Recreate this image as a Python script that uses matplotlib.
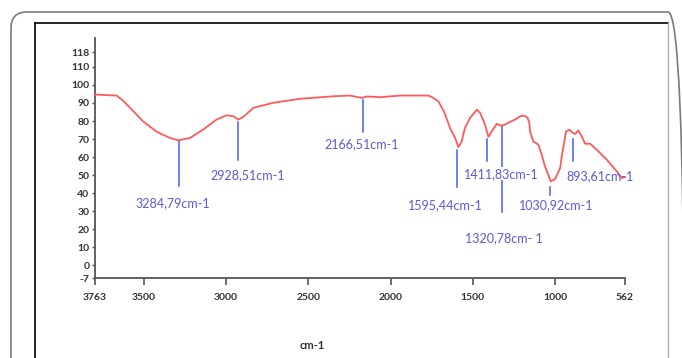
import matplotlib
matplotlib.use("Agg")
import matplotlib.pyplot as plt
from matplotlib.patches import FancyBboxPatch
from matplotlib.lines import Line2D
from matplotlib.transforms import IdentityTransform

plt.rcParams['font.family'] = ['Lato', 'DejaVu Sans']
plt.rcParams['axes.unicode_minus'] = False

# spectrum (wavenumber cm-1, transmittance %)
wn = [3795, 3734, 3663, 3625, 3582, 3503, 3420, 3339, 3289, 3218, 3139, 3056, 2995, 2955,
      2924, 2894, 2833, 2712, 2550, 2349, 2246, 2175, 2143, 2064, 1942, 1770, 1740, 1710,
      1675, 1639, 1608, 1588, 1568, 1548, 1517, 1476, 1456, 1426, 1406, 1385, 1355, 1335,
      1315, 1285, 1244, 1213, 1189, 1168, 1157, 1153, 1133, 1102, 1082, 1062, 1042, 1027,
      1001, 970, 960, 950, 934, 914, 893, 879, 859, 839, 818, 788, 748, 687, 626, 596, 576]
trans = [94.7, 94.4, 94.1, 91.3, 87.3, 79.8, 74.0, 70.6, 69.3, 70.6, 75.2, 80.8, 83.2, 82.6,
         80.8, 82.3, 87.3, 90.1, 92.3, 93.7, 94.1, 92.8, 93.6, 93.2, 94.1, 94.1, 92.8, 91.0,
         85.2, 76.2, 70.6, 65.6, 68.7, 76.2, 81.7, 86.3, 84.5, 78.0, 71.2, 74.3, 78.4, 77.6,
         77.6, 79.0, 80.8, 82.6, 83.0, 81.9, 79.0, 74.3, 68.7, 66.9, 61.3, 54.8, 50.2, 46.5,
         47.8, 53.9, 60.4, 65.9, 74.3, 75.2, 73.4, 72.8, 74.8, 71.5, 67.4, 67.4, 64.1, 58.6,
         52.1, 48.4, 48.9]

# peak markers
peaks = [3284.79, 2928.51, 2166.51, 1595.44, 1411.83, 1320.78, 1030.92, 893.61]
peak_top = [69.1, 79.7, 91.9, 64.1, 70.2, 77.1, 43.6, 70.3]
peak_bottom = [44.1, 58.6, 74.1, 43.7, 57.6, 29.8, 39.1, 57.6]
peak_labels = ["3284,79cm-1", "2928,51cm-1", "2166,51cm-1", "1595,44cm-1",
               "1411,83cm-1", "1320,78cm- 1", "1030,92cm-1", "893,61cm-1"]
label_x = [3321, 2867, 2175, 1669, 1329, 1311, 995, 728]
label_y = [34.5, 50.2, 66.9, 33.6, 50.8, 15.2, 33.2, 49.3]

x_ticks = [3795, 3500, 3000, 2500, 2000, 1500, 1000, 576]
x_ticklabels = ["3763", "3500", "3000", "2500", "2000", "1500", "1000", "562"]
y_ticks = [-7, 0, 10, 20, 30, 40, 50, 60, 70, 80, 90, 100, 110, 118]

W, H = 682, 358
fig = plt.figure(figsize=(W / 100, H / 100), dpi=100)
ax = fig.add_axes([95 / W, (H - 278) / H, 530 / W, (278 - 38) / H])

# frames
outer = FancyBboxPatch((11, -40), 673, H - 12 + 40, boxstyle="round,pad=0,rounding_size=16",
                       transform=IdentityTransform(), fill=False, edgecolor="#7a7a7a", lw=1.2)
fig.patches.append(outer)
fig.lines.append(Line2D([35, 668], [H - 23, H - 23], transform=IdentityTransform(), color="black", lw=1.2))
fig.lines.append(Line2D([35, 35], [0, H - 23], transform=IdentityTransform(), color="black", lw=1.2))
fig.lines.append(Line2D([668, 668], [0, H - 23], transform=IdentityTransform(), color="#b0b0b0", lw=1.0))

ax.plot(wn, trans, color="#ff5a5a", lw=1.3, clip_on=False, zorder=3)

blue = "#4a5cf0"
for p, t, b in zip(peaks, peak_top, peak_bottom):
    ax.plot([p, p], [t, b], color=blue, lw=1.1, zorder=2)
for i, (lx, ly, s) in enumerate(zip(label_x, label_y, peak_labels)):
    kw = {}
    if i == 4:
        kw['bbox'] = dict(facecolor='white', edgecolor='none', pad=0.5)
    ax.text(lx, ly, s, color="#5a5ad8", fontsize=9, ha="center", va="center", zorder=4, **kw)

ax.set_xlim(3795, 576)
ax.set_ylim(-7, 126)
ax.set_xticks(x_ticks)
ax.set_xticklabels(x_ticklabels)
ax.set_yticks(y_ticks)
for sp in ["top", "right"]:
    ax.spines[sp].set_visible(False)
for sp in ["left", "bottom"]:
    ax.spines[sp].set_color("#555555")
    ax.spines[sp].set_linewidth(1.3)
ax.tick_params(axis="x", direction="out", length=5, width=1.2, colors="#555555",
               labelcolor="#333333", labelsize=7.5, pad=6)
ax.tick_params(axis="y", direction="out", length=2, width=1.0, colors="#555555",
               labelcolor="#333333", labelsize=7.5, pad=2)
for lab in ax.get_xticklabels() + ax.get_yticklabels():
    lab.set_fontweight("bold")
ax.set_xlabel("cm-1", fontsize=8, fontweight="bold", color="#333333", labelpad=27)
ax.xaxis.label.set_x(0.41)

fig.savefig("out.png", dpi=100)
